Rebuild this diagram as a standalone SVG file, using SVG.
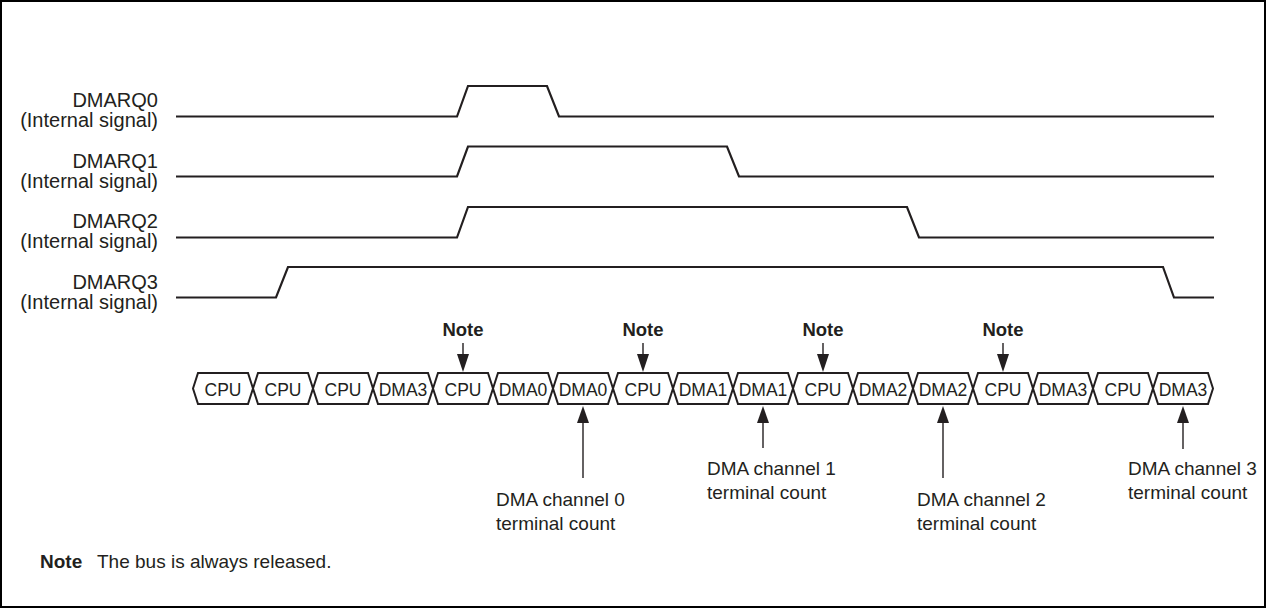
<svg xmlns="http://www.w3.org/2000/svg" width="1266" height="609" viewBox="0 0 1266 609">
<style>
text{font-family:"Liberation Sans",Arial,sans-serif;fill:#231f20}
.lbl{font-size:20px;text-anchor:end}
.cell{font-size:17.5px;text-anchor:middle}
.note{font-size:18.5px;font-weight:bold;text-anchor:middle}
.tc{font-size:19px}
.wave{fill:none;stroke:#231f20;stroke-width:2.2;stroke-linejoin:miter}
.hex{fill:#fff;stroke:#231f20;stroke-width:2}
.arr{stroke:#231f20;stroke-width:1.4;fill:none}
.head{fill:#231f20}
</style>
<rect x="1" y="1" width="1264" height="606" fill="#fff" stroke="#000" stroke-width="2"/>

<g id="sig-DMARQ0">
<text class="lbl" x="158" y="107">DMARQ0</text>
<text class="lbl" x="158" y="127">(Internal signal)</text>
<path class="wave" d="M176,116.5 H457 L468,86 H547 L559,116.5 H1214"/>
</g>
<g id="sig-DMARQ1">
<text class="lbl" x="158" y="167.5">DMARQ1</text>
<text class="lbl" x="158" y="187.5">(Internal signal)</text>
<path class="wave" d="M176,176.5 H457 L468,146.5 H727 L739,176.5 H1214"/>
</g>
<g id="sig-DMARQ2">
<text class="lbl" x="158" y="228">DMARQ2</text>
<text class="lbl" x="158" y="248">(Internal signal)</text>
<path class="wave" d="M176,237.5 H457 L468,207 H907 L919,237.5 H1214"/>
</g>
<g id="sig-DMARQ3">
<text class="lbl" x="158" y="288.5">DMARQ3</text>
<text class="lbl" x="158" y="308.5">(Internal signal)</text>
<path class="wave" d="M176,297.5 H276 L288,267 H1163 L1174,297.5 H1214"/>
</g>

<g id="bus">
<g id="c1"><polygon class="hex" points="193,388.5 198,373 248,373 253,388.5 248,404 198,404"/><text class="cell" x="223" y="395.5">CPU</text></g>
<g id="c2"><polygon class="hex" points="253,388.5 258,373 308,373 313,388.5 308,404 258,404"/><text class="cell" x="283" y="395.5">CPU</text></g>
<g id="c3"><polygon class="hex" points="313,388.5 318,373 368,373 373,388.5 368,404 318,404"/><text class="cell" x="343" y="395.5">CPU</text></g>
<g id="c4"><polygon class="hex" points="373,388.5 378,373 428,373 433,388.5 428,404 378,404"/><text class="cell" x="403" y="395.5">DMA3</text></g>
<g id="c5"><polygon class="hex" points="433,388.5 438,373 488,373 493,388.5 488,404 438,404"/><text class="cell" x="463" y="395.5">CPU</text></g>
<g id="c6"><polygon class="hex" points="493,388.5 498,373 548,373 553,388.5 548,404 498,404"/><text class="cell" x="523" y="395.5">DMA0</text></g>
<g id="c7"><polygon class="hex" points="553,388.5 558,373 608,373 613,388.5 608,404 558,404"/><text class="cell" x="583" y="395.5">DMA0</text></g>
<g id="c8"><polygon class="hex" points="613,388.5 618,373 668,373 673,388.5 668,404 618,404"/><text class="cell" x="643" y="395.5">CPU</text></g>
<g id="c9"><polygon class="hex" points="673,388.5 678,373 728,373 733,388.5 728,404 678,404"/><text class="cell" x="703" y="395.5">DMA1</text></g>
<g id="c10"><polygon class="hex" points="733,388.5 738,373 788,373 793,388.5 788,404 738,404"/><text class="cell" x="763" y="395.5">DMA1</text></g>
<g id="c11"><polygon class="hex" points="793,388.5 798,373 848,373 853,388.5 848,404 798,404"/><text class="cell" x="823" y="395.5">CPU</text></g>
<g id="c12"><polygon class="hex" points="853,388.5 858,373 908,373 913,388.5 908,404 858,404"/><text class="cell" x="883" y="395.5">DMA2</text></g>
<g id="c13"><polygon class="hex" points="913,388.5 918,373 968,373 973,388.5 968,404 918,404"/><text class="cell" x="943" y="395.5">DMA2</text></g>
<g id="c14"><polygon class="hex" points="973,388.5 978,373 1028,373 1033,388.5 1028,404 978,404"/><text class="cell" x="1003" y="395.5">CPU</text></g>
<g id="c15"><polygon class="hex" points="1033,388.5 1038,373 1088,373 1093,388.5 1088,404 1038,404"/><text class="cell" x="1063" y="395.5">DMA3</text></g>
<g id="c16"><polygon class="hex" points="1093,388.5 1098,373 1148,373 1153,388.5 1148,404 1098,404"/><text class="cell" x="1123" y="395.5">CPU</text></g>
<g id="c17"><polygon class="hex" points="1153,388.5 1158,373 1208,373 1213,388.5 1208,404 1158,404"/><text class="cell" x="1183" y="395.5">DMA3</text></g>
</g>

<g id="notes">
<text class="note" x="463" y="336">Note</text>
<text class="note" x="643" y="336">Note</text>
<text class="note" x="823" y="336">Note</text>
<text class="note" x="1003" y="336">Note</text>
</g>

<g id="connectors">
<line class="arr" x1="463" y1="343" x2="463" y2="356"/><polygon class="head" points="457,354 469,354 463,372"/>
<line class="arr" x1="643" y1="343" x2="643" y2="356"/><polygon class="head" points="637,354 649,354 643,372"/>
<line class="arr" x1="823" y1="343" x2="823" y2="356"/><polygon class="head" points="817,354 829,354 823,372"/>
<line class="arr" x1="1003" y1="343" x2="1003" y2="356"/><polygon class="head" points="997,354 1009,354 1003,372"/>

<line class="arr" x1="583" y1="420" x2="583" y2="478"/><polygon class="head" points="577,423 589,423 583,406"/>
<line class="arr" x1="763" y1="420" x2="763" y2="448"/><polygon class="head" points="757,423 769,423 763,406"/>
<line class="arr" x1="943" y1="420" x2="943" y2="478"/><polygon class="head" points="937,423 949,423 943,406"/>
<line class="arr" x1="1183" y1="420" x2="1183" y2="449"/><polygon class="head" points="1177,423 1189,423 1183,406"/>
</g>

<g id="tc0"><text class="tc" x="496" y="505.5">DMA channel 0</text><text class="tc" x="496" y="529.5">terminal count</text></g>
<g id="tc1"><text class="tc" x="707" y="475">DMA channel 1</text><text class="tc" x="707" y="499">terminal count</text></g>
<g id="tc2"><text class="tc" x="917" y="505.5">DMA channel 2</text><text class="tc" x="917" y="529.5">terminal count</text></g>
<g id="tc3"><text class="tc" x="1128" y="475">DMA channel 3</text><text class="tc" x="1128" y="499">terminal count</text></g>

<g id="footnote">
<text x="40" y="568" style="font-size:19px;font-weight:bold">Note</text>
<text x="97" y="568" style="font-size:19px">The bus is always released.</text>
</g>
</svg>
